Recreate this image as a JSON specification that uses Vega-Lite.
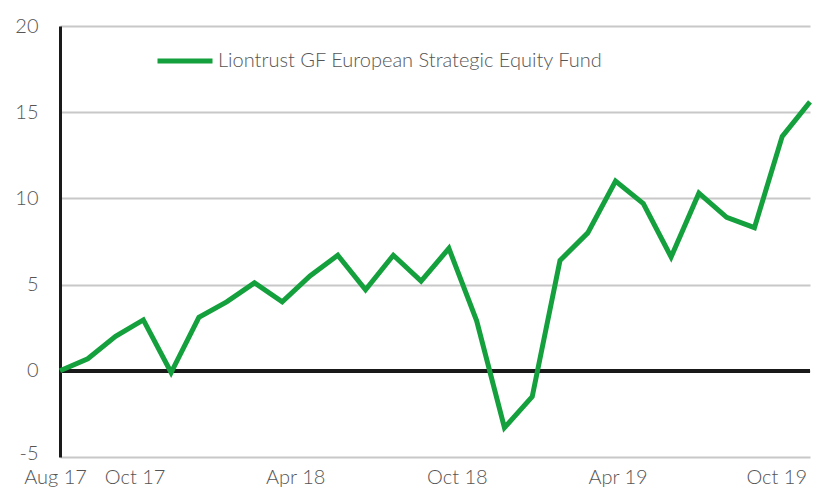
{
  "$schema": "https://vega.github.io/schema/vega-lite/v6.json",
  "width": 750,
  "height": 431,
  "autosize": {"type": "none"},
  "padding": {"left": 60, "top": 26, "right": 6, "bottom": 33},
  "background": "white",
  "config": {
    "view": {"stroke": null},
    "font": "Lato",
    "axis": {"labelFont": "Lato", "labelColor": "#555555", "labelFontWeight": 300}
  },
  "data": {
    "values": [
      {"month": "Aug 17", "value": 0.0, "series": "Liontrust GF European Strategic Equity Fund"},
      {"month": "Sep 17", "value": 0.7, "series": "Liontrust GF European Strategic Equity Fund"},
      {"month": "Oct 17", "value": 2.0, "series": "Liontrust GF European Strategic Equity Fund"},
      {"month": "Nov 17", "value": 2.95, "series": "Liontrust GF European Strategic Equity Fund"},
      {"month": "Dec 17", "value": -0.1, "series": "Liontrust GF European Strategic Equity Fund"},
      {"month": "Jan 18", "value": 3.1, "series": "Liontrust GF European Strategic Equity Fund"},
      {"month": "Feb 18", "value": 4.0, "series": "Liontrust GF European Strategic Equity Fund"},
      {"month": "Mar 18", "value": 5.1, "series": "Liontrust GF European Strategic Equity Fund"},
      {"month": "Apr 18", "value": 4.0, "series": "Liontrust GF European Strategic Equity Fund"},
      {"month": "May 18", "value": 5.5, "series": "Liontrust GF European Strategic Equity Fund"},
      {"month": "Jun 18", "value": 6.7, "series": "Liontrust GF European Strategic Equity Fund"},
      {"month": "Jul 18", "value": 4.7, "series": "Liontrust GF European Strategic Equity Fund"},
      {"month": "Aug 18", "value": 6.7, "series": "Liontrust GF European Strategic Equity Fund"},
      {"month": "Sep 18", "value": 5.2, "series": "Liontrust GF European Strategic Equity Fund"},
      {"month": "Oct 18", "value": 7.1, "series": "Liontrust GF European Strategic Equity Fund"},
      {"month": "Nov 18", "value": 2.9, "series": "Liontrust GF European Strategic Equity Fund"},
      {"month": "Dec 18", "value": -3.3, "series": "Liontrust GF European Strategic Equity Fund"},
      {"month": "Jan 19", "value": -1.5, "series": "Liontrust GF European Strategic Equity Fund"},
      {"month": "Feb 19", "value": 6.4, "series": "Liontrust GF European Strategic Equity Fund"},
      {"month": "Mar 19", "value": 8.0, "series": "Liontrust GF European Strategic Equity Fund"},
      {"month": "Apr 19", "value": 11.0, "series": "Liontrust GF European Strategic Equity Fund"},
      {"month": "May 19", "value": 9.7, "series": "Liontrust GF European Strategic Equity Fund"},
      {"month": "Jun 19", "value": 6.6, "series": "Liontrust GF European Strategic Equity Fund"},
      {"month": "Jul 19", "value": 10.3, "series": "Liontrust GF European Strategic Equity Fund"},
      {"month": "Aug 19", "value": 8.9, "series": "Liontrust GF European Strategic Equity Fund"},
      {"month": "Sep 19", "value": 8.3, "series": "Liontrust GF European Strategic Equity Fund"},
      {"month": "Oct 19", "value": 13.6, "series": "Liontrust GF European Strategic Equity Fund"},
      {"month": "Nov 19", "value": 15.6, "series": "Liontrust GF European Strategic Equity Fund"}
    ]
  },
  "layer": [
    {
      "mark": {"type": "rule", "color": "#1a1a1a", "strokeWidth": 3},
      "encoding": {"y": {"datum": 0, "type": "quantitative"}}
    },
    {
      "mark": {"type": "line", "strokeWidth": 5, "strokeJoin": "miter", "strokeCap": "butt"},
      "encoding": {
        "x": {
          "field": "month",
          "type": "ordinal",
          "sort": null,
          "scale": {"type": "point", "padding": 0},
          "axis": {
            "title": null,
            "values": ["Aug 17", "Oct 17", "Apr 18", "Oct 18", "Apr 19", "Oct 19"],
            "labelAngle": 0,
            "labelFontSize": 20,
            "labelPadding": 10,
            "ticks": false,
            "domain": false,
            "grid": false,
            "labelOffset": {
              "condition": [
                {"test": "datum.value == 'Aug 17'", "value": -5},
                {"test": "datum.value == 'Oct 17'", "value": 19},
                {"test": "datum.value == 'Apr 18'", "value": 13},
                {"test": "datum.value == 'Oct 18'", "value": 8},
                {"test": "datum.value == 'Apr 19'", "value": 2}
              ],
              "value": -6
            }
          }
        },
        "y": {
          "field": "value",
          "type": "quantitative",
          "scale": {"domain": [-5, 20], "nice": false, "zero": false},
          "axis": {
            "title": null,
            "values": [-5, 0, 5, 10, 15, 20],
            "labelExpr": "replace(datum.label, '\u2212', '-')",
            "labelFontSize": 20,
            "labelPadding": 22,
            "labelOffset": {"condition": {"test": "datum.value == -5", "value": -4}, "value": 0},
            "ticks": false,
            "domain": true,
            "domainColor": "#1a1a1a",
            "domainWidth": 3,
            "grid": true,
            "gridColor": "#c8c8c8",
            "gridWidth": 2
          }
        },
        "color": {
          "field": "series",
          "type": "nominal",
          "scale": {"range": ["#14a03c"]},
          "legend": {
            "title": null,
            "orient": "none",
            "legendX": 95,
            "legendY": 5,
            "symbolType": "stroke",
            "symbolSize": 3025,
            "symbolStrokeWidth": 5,
            "labelFontSize": 20,
            "labelFont": "Lato",
            "labelFontWeight": 300,
            "labelColor": "#555555",
            "labelOffset": 3,
            "labelLimit": 600
          }
        }
      }
    }
  ]
}
